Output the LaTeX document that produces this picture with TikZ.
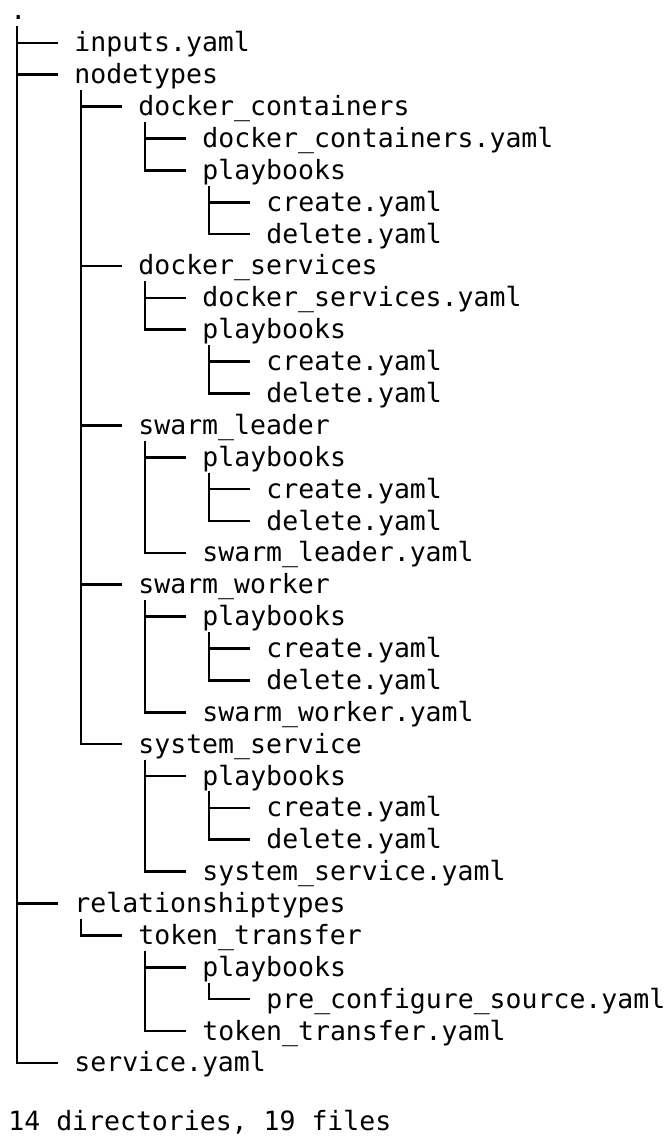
\documentclass[tikz,border=0pt]{standalone}
\usepackage{fontspec}
\setmonofont{DejaVu Sans Mono}

\begin{document}
\begin{tikzpicture}[x=0.5pt,y=-0.5pt,
  entry/.style={anchor=base west,inner sep=0pt,text height=12pt,text depth=3pt,
    font=\ttfamily\fontsize{13.25}{16}\selectfont},
  branch/.style={line width=1.3pt,black}]
\useasboundingbox (0,0) rectangle (665,1138);
% tree entries: name/level/row/text
\foreach \n/\l/\r/\t in {root/0/0/.,
  inputs/1/1/inputs.yaml, nodetypes/1/2/nodetypes,
  dc/2/3/docker\_containers, dcyaml/3/4/docker\_containers.yaml, dcpb/3/5/playbooks,
  dccreate/4/6/create.yaml, dcdelete/4/7/delete.yaml,
  ds/2/8/docker\_services, dsyaml/3/9/docker\_services.yaml, dspb/3/10/playbooks,
  dscreate/4/11/create.yaml, dsdelete/4/12/delete.yaml,
  sl/2/13/swarm\_leader, slpb/3/14/playbooks,
  slcreate/4/15/create.yaml, sldelete/4/16/delete.yaml, slyaml/3/17/swarm\_leader.yaml,
  sw/2/18/swarm\_worker, swpb/3/19/playbooks,
  swcreate/4/20/create.yaml, swdelete/4/21/delete.yaml, swyaml/3/22/swarm\_worker.yaml,
  ss/2/23/system\_service, sspb/3/24/playbooks,
  sscreate/4/25/create.yaml, ssdelete/4/26/delete.yaml, ssyaml/3/27/system\_service.yaml,
  rel/1/28/relationshiptypes, tt/2/29/token\_transfer, ttpb/3/30/playbooks,
  ttpre/4/31/pre\_configure\_source.yaml, ttyaml/3/32/token\_transfer.yaml,
  service/1/33/service.yaml}
  \node[entry] (\n) at ({10+64*\l},{20+31.875*\r}) {\t};
\node[entry] (summary) at (8,1130) {14 directories, 19 files};
% branches
\foreach \p/\c in {root/inputs, root/nodetypes, root/rel, root/service,
  nodetypes/dc, nodetypes/ds, nodetypes/sl, nodetypes/sw, nodetypes/ss,
  dc/dcyaml, dc/dcpb, dcpb/dccreate, dcpb/dcdelete,
  ds/dsyaml, ds/dspb, dspb/dscreate, dspb/dsdelete,
  sl/slpb, sl/slyaml, slpb/slcreate, slpb/sldelete,
  sw/swpb, sw/swyaml, swpb/swcreate, swpb/swdelete,
  ss/sspb, ss/ssyaml, sspb/sscreate, sspb/ssdelete,
  rel/tt, tt/ttpb, tt/ttyaml, ttpb/ttpre}
  \draw[branch] ([xshift=3.5pt]\p.south west) |- ([xshift=-8pt]\c.west);
\end{tikzpicture}
\end{document}
